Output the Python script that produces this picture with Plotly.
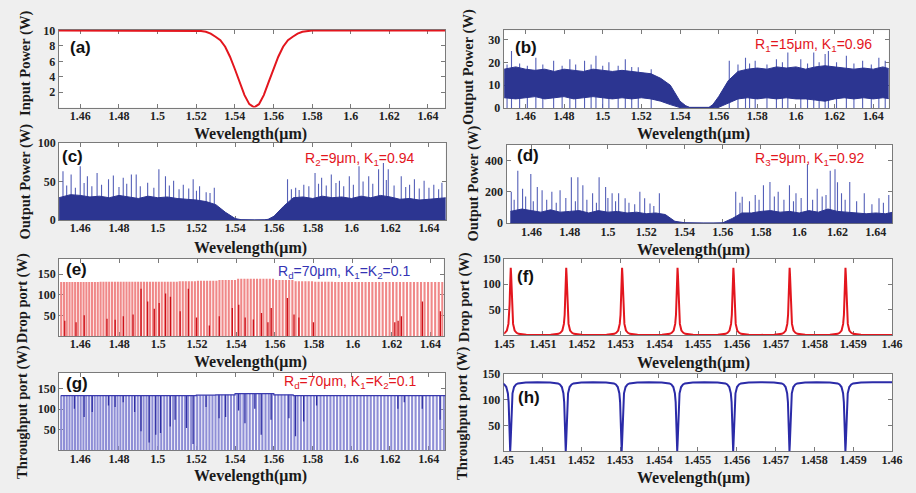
import plotly.graph_objects as go

# ---------------- data ----------------
# (a) input pulse spectrum
a_lambda = [1.4487, 1.515, 1.52, 1.5225, 1.525, 1.5275, 1.53, 1.5325, 1.535, 1.5375,
            1.54, 1.5425, 1.545, 1.5475, 1.55, 1.5525, 1.555, 1.5575, 1.56, 1.5625,
            1.565, 1.5675, 1.57, 1.5725, 1.575, 1.5775, 1.58, 1.585, 1.649]
a_power = [10, 10, 10, 9.95, 9.85, 9.6, 9.2, 8.75, 7.9, 6.6,
           5.0, 3.3, 1.6, 0.42, 0.0, 0.42, 1.6, 3.3, 5.0, 6.6,
           7.9, 8.75, 9.2, 9.6, 9.85, 9.95, 10, 10, 10]

# envelope sample wavelengths shared by the chaotic outputs (b)-(d)
band_lambda = [1.449, 1.455, 1.46, 1.465, 1.47, 1.475, 1.48, 1.485, 1.49, 1.495,
               1.50, 1.505, 1.51, 1.515, 1.52, 1.525, 1.53, 1.535, 1.54, 1.543,
               1.545, 1.55, 1.555, 1.557, 1.56, 1.565, 1.57, 1.575, 1.58, 1.585,
               1.59, 1.595, 1.60, 1.605, 1.61, 1.615, 1.62, 1.625, 1.63, 1.635,
               1.64, 1.645, 1.649]

# (b) ring R1
b_upper = [17, 18, 17, 16.5, 17, 16, 17, 16.5, 16, 17,
           16.5, 16, 16.5, 16, 15.5, 15, 13, 10, 3, 1,
           0.3, 0.2, 0.3, 1.5, 5, 12, 16, 17, 17.5, 17,
           18, 17.5, 18, 17, 18, 18.5, 18, 17.5, 17, 17.5,
           17, 18, 17]
b_lower = [4.5, 4, 4.5, 5, 4, 4.5, 5, 4, 4.5, 5,
           4.5, 4, 4.5, 4, 4.5, 4, 3, 1.5, 0.2, 0,
           0, 0, 0, 0, 0.3, 2, 4, 4.5, 4, 4.5,
           4, 4.5, 4, 4, 3.5, 3, 4, 4.5, 4, 4.5,
           4, 4.5, 4]
b_spike_lambda = [1.4528, 1.4654, 1.4746, 1.4830, 1.4906, 1.4965, 1.5032, 1.5117, 1.5184, 1.5251,
                  1.5655, 1.5739, 1.5789, 1.5899, 1.5958, 1.6025, 1.6092, 1.6151, 1.6168, 1.6261,
                  1.6345, 1.6429, 1.6462,
                  1.4505, 1.4570, 1.4610, 1.4690, 1.4790, 1.4860, 1.4940, 1.5000, 1.5080, 1.5150,
                  1.5700, 1.5760, 1.5850, 1.5930, 1.6060, 1.6120, 1.6210, 1.6300, 1.6390]
b_spike_power = [25, 22, 20.7, 21.4, 20.7, 22.9, 20, 21.4, 17.9, 17,
                 20.7, 22, 20.7, 21.4, 24.3, 21.4, 24.3, 23.6, 25, 22.9,
                 20.7, 22, 20.7,
                 19, 19.5, 18.5, 19, 18.5, 19, 19, 18.5, 18.5, 18,
                 19, 19.5, 19, 20, 19.5, 20, 20, 19.5, 19]

# (c) ring R2
c_upper = [29, 33, 32, 30, 31, 29, 32, 30, 28, 31,
           29, 30, 28, 27, 26, 24, 20, 10, 2, 0.5,
           0.2, 0.2, 0.3, 1, 5, 18, 29, 30, 28, 31,
           29, 30, 28, 31, 29, 32, 30, 27, 28, 26,
           27, 28, 29]
c_spike_lambda = [1.4511, 1.4553, 1.4600, 1.4637, 1.4687, 1.4746, 1.4771, 1.4822, 1.4864, 1.4889,
                  1.4948, 1.5006, 1.5040, 1.5082, 1.5132, 1.5183, 1.5216, 1.5250, 1.5292, 1.5670,
                  1.5712, 1.5754, 1.5812, 1.5846, 1.5896, 1.5938, 1.5989, 1.6039, 1.6089, 1.6140,
                  1.6165, 1.6190, 1.6257, 1.6325, 1.6375, 1.6425, 1.6467,
                  1.4530, 1.4575, 1.4620, 1.4660, 1.4710, 1.4800, 1.4840, 1.4910, 1.4980, 1.5060,
                  1.5110, 1.5160, 1.5200, 1.5270, 1.5690, 1.5730, 1.5780, 1.5830, 1.5870, 1.5920,
                  1.5960, 1.6010, 1.6060, 1.6110, 1.6180, 1.6220, 1.6280, 1.6300, 1.6350, 1.6400,
                  1.6450]
c_spike_power = [63.5, 59, 70, 57, 61, 53, 58, 55, 59, 59,
                 48.5, 66, 57, 51, 46, 53, 44, 36, 42, 53,
                 42, 46, 61, 55, 59, 51, 57, 70, 57, 66,
                 74, 66, 57, 53, 51, 46, 48.5,
                 45, 42, 48, 44, 46, 43, 47, 44, 42, 45,
                 40, 41, 38, 35, 40, 39, 44, 47, 45, 48,
                 44, 46, 50, 47, 52, 45, 43, 46, 41, 42,
                 40]

# (d) ring R3
d_upper = [75, 90, 80, 70, 85, 70, 75, 80, 65, 80,
           70, 75, 65, 70, 60, 65, 55, 12, 3, 1,
           0.5, 0.5, 0.5, 0.5, 2, 30, 65, 65, 75, 80,
           70, 75, 65, 80, 70, 90, 75, 70, 65, 60,
           65, 60, 70]
d_spike_lambda = [1.4495, 1.4529, 1.4554, 1.4597, 1.4631, 1.4656, 1.4707, 1.4750, 1.4809, 1.4843,
                  1.4869, 1.4920, 1.4954, 1.4988, 1.5022, 1.5056, 1.5090, 1.5167, 1.5192, 1.5269,
                  1.5668, 1.5702, 1.5770, 1.5813, 1.5847, 1.5890, 1.5949, 1.5983, 1.6043, 1.6094,
                  1.6162, 1.6187, 1.6221, 1.6264, 1.6340, 1.6417, 1.6468,
                  1.4510, 1.4570, 1.4610, 1.4680, 1.4730, 1.4780, 1.4830, 1.4890, 1.4940, 1.5000,
                  1.5040, 1.5110, 1.5140, 1.5220, 1.5240, 1.5690, 1.5740, 1.5790, 1.5870, 1.5920,
                  1.5970, 1.6010, 1.6070, 1.6120, 1.6140, 1.6200, 1.6240, 1.6300, 1.6380, 1.6440]
d_spike_power = [200, 334, 220, 313, 231, 210, 200, 210, 293, 293,
                 241, 190, 293, 231, 190, 190, 159, 200, 159, 190,
                 200, 169, 179, 241, 262, 200, 241, 190, 375, 220,
                 334, 344, 190, 262, 190, 159, 179,
                 150, 170, 140, 150, 130, 160, 140, 150, 130, 160,
                 140, 130, 120, 125, 110, 130, 140, 150, 170, 150,
                 140, 160, 150, 170, 180, 260, 150, 140, 120, 130]

# add-drop ring Rd: resonance comb (first resonance and spacing near 1.4545 um)
comb_first = 1.45017
comb_fsr = 0.001436
comb_ref_lambda = 1.4545

# (e) drop-port peak heights per 0.01 um bin starting at 1.45
e_peak_bins = [131, 131, 132, 132, 132, 132, 133, 134, 136, 139,
               139, 136, 133, 132, 131, 131, 131, 131, 131, 131]
e_partial_lambda = [1.4520, 1.4578, 1.4620, 1.4737, 1.4779, 1.4821, 1.4871, 1.4912, 1.4946, 1.4980,
                    1.5005, 1.5038, 1.5063, 1.5113, 1.5155, 1.5197, 1.5263, 1.5314, 1.5381, 1.5414,
                    1.5447, 1.5489, 1.5531, 1.5564, 1.5581, 1.5664, 1.5698, 1.5723, 1.5798, 1.6216,
                    1.6233, 1.6250, 1.6358, 1.6450]
e_partial_power = [37, 33, 50, 42, 39, 48, 52, 115, 84, 66,
                   80, 103, 95, 60, 115, 45, 25, 48, 68, 76,
                   45, 40, 56, 33, 68, 92, 52, 45, 33, 33,
                   37, 48, 84, 60]

# (g) through-port level per 0.01 um bin starting at 1.45
g_top_bins = [133, 133, 133, 133, 133, 133, 133, 134, 135, 138,
              138, 135, 133, 133, 133, 133, 133, 133, 133, 133]
g_partial_lambda = [1.4570, 1.4620, 1.4662, 1.4746, 1.4780, 1.4822, 1.4881, 1.4914, 1.4956, 1.4990,
                    1.5015, 1.5065, 1.5090, 1.5149, 1.5183, 1.5250, 1.5317, 1.5351, 1.5418, 1.5451,
                    1.5502, 1.5535, 1.5586, 1.5678, 1.5712, 1.5754, 1.5821, 1.6241, 1.6274, 1.6367,
                    1.6459]
g_partial_floor = [101, 81, 93, 109, 105, 117, 93, 46, 19, 38,
                   42, 58, 74, 54, 15, 105, 78, 81, 97, 66,
                   101, 38, 74, 78, 34, 70, 109, 101, 117, 101,
                   74]

# (f), (h) zoomed resonances
fh_centers = [1.45017, 1.45160, 1.45304, 1.45447, 1.45591, 1.45736, 1.45880]
line_offsets = [0, 1e-5, 2e-5, 3e-5, 4e-5, 6e-5, 1e-4, 1.5e-4, 2e-4, 4e-4, 7e-4]
f_profile = [132, 118, 88, 60, 40, 22, 9, 4.5, 2.5, 0.8, 0.4]
h_profile = [0, 15, 45, 75, 95, 112, 124, 129, 131, 133, 133.5]

wide_ticks = [1.46, 1.48, 1.50, 1.52, 1.54, 1.56, 1.58, 1.60, 1.62, 1.64]
wide_ticktext = ["1.46", "1.48", "1.5", "1.52", "1.54", "1.56", "1.58", "1.6", "1.62", "1.64"]
narrow_ticks = [1.450, 1.451, 1.452, 1.453, 1.454, 1.455, 1.456, 1.457, 1.458, 1.459, 1.460]
narrow_ticktext = ["1.45", "1.451", "1.452", "1.453", "1.454", "1.455", "1.456", "1.457", "1.458", "1.459", "1.46"]

# ---------------- figure ----------------
W, H = 916, 493
RED = "#e3161e"
NAVY = "#2c3591"
SPIKE = "#5560b8"
fig = go.Figure()


def ax_ids(i):
    return ("x" if i == 1 else f"x{i}"), ("y" if i == 1 else f"y{i}")


def vlines(xs, y0s, y1s):
    vx, vy = [], []
    for x, a, b in zip(xs, y0s, y1s):
        vx += [x, x, None]
        vy += [a, b, None]
    return vx, vy


# (a)
xa, ya = ax_ids(1)
fig.add_trace(go.Scatter(x=a_lambda, y=a_power, mode="lines",
                         line=dict(color=RED, width=2), xaxis=xa, yaxis=ya))


# (b)-(d) chaotic outputs: dense band plus spikes
def chaos(i, upper, lower, sl, sp):
    xi, yi = ax_ids(i)
    sx, sy = vlines(sl, [0] * len(sl), sp)
    fig.add_trace(go.Scatter(x=sx, y=sy, mode="lines", line=dict(color=SPIKE, width=1.1),
                             xaxis=xi, yaxis=yi))
    fig.add_trace(go.Scatter(x=band_lambda + band_lambda[::-1], y=upper + lower[::-1],
                             mode="lines", fill="toself", fillcolor=NAVY,
                             line=dict(color=NAVY, width=1), xaxis=xi, yaxis=yi))


chaos(2, b_upper, b_lower, b_spike_lambda, b_spike_power)
chaos(3, c_upper, [0] * len(c_upper), c_spike_lambda, c_spike_power)
chaos(4, d_upper, [0] * len(d_upper), d_spike_lambda, d_spike_power)

# resonance comb of the add-drop ring
comb = []
p = comb_first
while p < 1.65:
    comb.append(p)
    p += comb_fsr * (p / comb_ref_lambda) ** 2


def bin_of(lam, bins):
    return bins[max(0, min(len(bins) - 1, int((lam - 1.45) / 0.01)))]


# (e) drop port
xe, ye = ax_ids(5)
cx, cy = vlines(comb, [0] * len(comb), [bin_of(q, e_peak_bins) for q in comb])
fig.add_trace(go.Scatter(x=cx, y=cy, mode="lines", line=dict(color="#f08888", width=2.1),
                         xaxis=xe, yaxis=ye))
px_, py_ = vlines(e_partial_lambda, [0] * len(e_partial_lambda), e_partial_power)
fig.add_trace(go.Scatter(x=px_, y=py_, mode="lines", line=dict(color="#cc1018", width=1.3),
                         xaxis=xe, yaxis=ye))

# (g) through port
xg, yg = ax_ids(7)
cx, cy = vlines(comb, [0] * len(comb), [bin_of(q, g_top_bins) for q in comb])
fig.add_trace(go.Scatter(x=cx, y=cy, mode="lines", line=dict(color="#8e8ed6", width=2.1),
                         xaxis=xg, yaxis=yg))
gx, gy = vlines(g_partial_lambda, [bin_of(q, g_top_bins) for q in g_partial_lambda], g_partial_floor)
fig.add_trace(go.Scatter(x=gx, y=gy, mode="lines", line=dict(color="#3030a4", width=1.3),
                         xaxis=xg, yaxis=yg))
edges = [1.45 + 0.01 * k for k in range(len(g_top_bins) + 1)]
fig.add_trace(go.Scatter(x=edges, y=g_top_bins + [g_top_bins[-1]], mode="lines", line_shape="hv",
                         line=dict(color="#3a3aae", width=1.2), xaxis=xg, yaxis=yg))


# (f), (h) zoomed lines
def resonances(profile, tail):
    offs = [-o for o in line_offsets[:0:-1]] + line_offsets
    vals = profile[:0:-1] + profile
    xs, ys = [], []
    for c in fh_centers:
        for o, v in zip(offs, vals):
            xs.append(c + o)
            ys.append(v)
    xs.append(1.46)
    ys.append(tail)
    return xs, ys


xf, yf = ax_ids(6)
fx_, fy_ = resonances(f_profile, f_profile[-1])
fig.add_trace(go.Scatter(x=fx_, y=fy_, mode="lines", line=dict(color=RED, width=2),
                         xaxis=xf, yaxis=yf))
xh, yh = ax_ids(8)
hx_, hy_ = resonances(h_profile, h_profile[-1])
fig.add_trace(go.Scatter(x=hx_, y=hy_, mode="lines", line=dict(color="#2b2ba8", width=2),
                         xaxis=xh, yaxis=yh))

# ---------------- axes ----------------
panel_px = [
    ((48.7, 445.0), (23.5, 103.5)),
    ((504.7, 899.3), (24.0, 104.0)),
    ((49.3, 445.3), (140.0, 219.3)),
    ((507.7, 902.7), (141.7, 222.5)),
    ((49.3, 443.3), (259.0, 338.5)),
    ((505.3, 902.7), (259.0, 337.7)),
    ((49.3, 445.0), (376.7, 456.2)),
    ((504.7, 902.7), (377.3, 457.3)),
]
x_ranges = [[1.4487, 1.649], [1.4487, 1.648], [1.4491, 1.6486], [1.447, 1.6485],
            [1.4491, 1.6467], [1.45, 1.46], [1.4491, 1.6486], [1.45, 1.46]]
y_ranges = [[-0.02, 10.1], [0, 34], [0, 100], [0, 500],
            [0, 188], [0, 150], [0, 188], [0, 150]]
y_ticks = [[2, 4, 6, 8, 10], [0, 10, 20, 30], [0, 50, 100], [0, 200, 400],
           [50, 100, 150], [50, 100, 150], [50, 100, 150], [50, 100, 150]]


def bold(labels):
    return [f"<b>{t}</b>" for t in labels]


tickfont = dict(family="Liberation Serif, Times New Roman, serif", size=12, color="#222222")
common = dict(showline=True, linecolor="#7a7a7a", linewidth=1, mirror="ticks",
              ticks="inside", ticklen=4, tickcolor="#7a7a7a", tickwidth=1,
              showgrid=False, zeroline=False, tickfont=tickfont, fixedrange=True)

layout_axes = {}
for i, ((x0, x1), (y0, y1)) in enumerate(panel_px, start=1):
    narrow = i in (6, 8)
    xk = "xaxis" if i == 1 else f"xaxis{i}"
    yk = "yaxis" if i == 1 else f"yaxis{i}"
    xa_id, ya_id = ax_ids(i)
    layout_axes[xk] = dict(common, domain=[x0 / W, x1 / W], range=x_ranges[i - 1],
                           anchor=ya_id, tickmode="array",
                           tickvals=narrow_ticks if narrow else wide_ticks,
                           ticktext=bold(narrow_ticktext if narrow else wide_ticktext),
                           ticklabelstandoff=-3, layer="below traces")
    layout_axes[yk] = dict(common, domain=[1 - y1 / H, 1 - y0 / H], range=y_ranges[i - 1],
                           anchor=xa_id, tickmode="array", tickvals=y_ticks[i - 1],
                           ticktext=bold([str(v) for v in y_ticks[i - 1]]),
                           layer="below traces")


def ann(text, px, py, size, family, color, angle=0):
    return dict(text=text, x=px / W, y=1 - py / H, xref="paper", yref="paper",
                showarrow=False, textangle=angle, xanchor="center", yanchor="middle",
                font=dict(family=family, size=size, color=color))


SERIF = "Liberation Serif, Times New Roman, serif"
SANS = "Liberation Sans, Arial, sans-serif"
annotations = []
for (px, py) in [(245, 131), (699, 131), (245, 248), (699, 250),
                 (245, 365), (699, 366), (245, 483), (699, 485)]:
    annotations.append(ann("<b>Wevelength(μm)</b>", px, py, 16, SERIF, "#1a1a1a"))

ytitles = [("Input Power (W)", 15, 58), ("Output Power (W)", 468, 62),
           ("Output Power (W)", 15, 180), ("Output Power (W)", 474, 182),
           ("Drop port (W)", 12, 300), ("Drop port (W)", 465, 299),
           ("Throughput port (W)", 11, 417), ("Throughput port (W)", 462, 418)]
for t, px, py in ytitles:
    annotations.append(ann(f"<b>{t}</b>", px, py, 14.5, SERIF, "#1a1a1a", angle=-90))

for t, px, py in [("(a)", 71, 42), ("(b)", 528, 42), ("(c)", 63, 154), ("(d)", 530, 153),
                  ("(e)", 67, 270), ("(f)", 527, 277), ("(g)", 68, 388), ("(h)", 531, 402)]:
    annotations.append(ann(f"<b>{t}</b>", px, py, 17, SANS, "#111111"))

annotations += [
    ann("R<sub>1</sub>=15μm, K<sub>1</sub>=0.96", 822, 39, 14, SANS, RED),
    ann("R<sub>2</sub>=9μm, K<sub>1</sub>=0.94", 357, 156, 14, SANS, RED),
    ann("R<sub>3</sub>=9μm, K<sub>1</sub>=0.92", 818, 156, 14, SANS, RED),
    ann("R<sub>d</sub>=70μm, K<sub>1</sub>=K<sub>2</sub>=0.1", 341, 273, 14, SANS, "#3434b4"),
    ann("R<sub>d</sub>=70μm, K<sub>1</sub>=K<sub>2</sub>=0.1", 347, 386, 14, SANS, RED),
]

fig.update_layout(
    width=W, height=H, margin=dict(l=0, r=0, t=0, b=0),
    paper_bgcolor="#efefef", plot_bgcolor="#ffffff",
    showlegend=False, annotations=annotations,
    font=dict(family=SERIF, color="#222222"),
    **layout_axes,
)

fig.write_html("out.html", config={"displayModeBar": False})
